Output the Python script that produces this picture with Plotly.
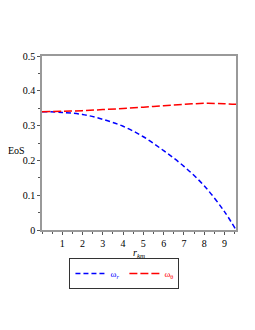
import plotly.graph_objects as go

r_km = [0, 1, 2, 3, 4, 5, 6, 7, 8, 9, 9.57]
omega_r = [0.340, 0.338, 0.332, 0.318, 0.298, 0.268, 0.228, 0.183, 0.127, 0.053, 0.0]
omega_theta = [0.340, 0.341, 0.343, 0.346, 0.349, 0.353, 0.357, 0.361, 0.364, 0.363, 0.361]

x_ticks = [1, 2, 3, 4, 5, 6, 7, 8, 9]
y_ticks = [0, 0.1, 0.2, 0.3, 0.4, 0.5]
y_ticklabels = ["0", "0.1", "0.2", "0.3", "0.4", "0.5"]

FONT = "Liberation Serif"

fig = go.Figure()
fig.add_trace(go.Scatter(
    x=r_km, y=omega_r, mode="lines", line=dict(color="#0000ff", width=1.5, dash="5px,3px", shape="spline"),
    name='<span style="color:#0000ff">ω<sub><i>r</i></sub></span>'))
fig.add_trace(go.Scatter(
    x=r_km, y=omega_theta, mode="lines", line=dict(color="#ff0000", width=1.5, dash="8px,3px", shape="spline"),
    name='<span style="color:#ff0000">ω<sub>θ</sub></span>'))

fig.update_layout(
    width=247, height=322,
    margin=dict(l=34, r=19, t=48, b=100, autoexpand=False),
    paper_bgcolor="white", plot_bgcolor="white",
    font=dict(family=FONT, size=10, color="black"),
    legend=dict(orientation="h", x=0.425, xanchor="center", y=-0.161, yanchor="top",
                bordercolor="#333333", borderwidth=1, font=dict(family=FONT, size=9),
                itemwidth=30, tracegroupgap=0),
    xaxis=dict(range=[0, 9.57], tickvals=x_ticks, showgrid=False, zeroline=False, automargin=False,
               showline=True, linecolor="#999999", linewidth=1.5, mirror=True,
               ticks="outside", ticklen=3, tickcolor="#555555", tickwidth=1,
               minor=dict(dtick=0.5, tick0=0, ticks="outside", ticklen=2, tickcolor="#555555"),
               tickfont=dict(family=FONT, size=10)),
    yaxis=dict(range=[0, 0.5], tickvals=y_ticks, ticktext=y_ticklabels, showgrid=False, zeroline=False,
               automargin=False,
               showline=True, linecolor="#999999", linewidth=1.5, mirror=True,
               ticks="outside", ticklen=3, tickcolor="#555555", tickwidth=1,
               minor=dict(dtick=0.05, tick0=0, ticks="outside", ticklen=2, tickcolor="#555555"),
               tickfont=dict(family=FONT, size=10)),
    annotations=[
        dict(text="EoS", x=(16 - 42) / 194, y=(230 - 150) / 174, xref="paper", yref="paper",
             xanchor="center", yanchor="middle", showarrow=False,
             font=dict(family=FONT, size=10)),
        dict(text="<i>r</i><sub><i>km</i></sub>", x=(139 - 42) / 194, y=-0.089, xref="paper", yref="paper",
             xanchor="center", yanchor="top", showarrow=False, font=dict(family=FONT, size=10)),
    ],
)

fig.write_html("out.html")
